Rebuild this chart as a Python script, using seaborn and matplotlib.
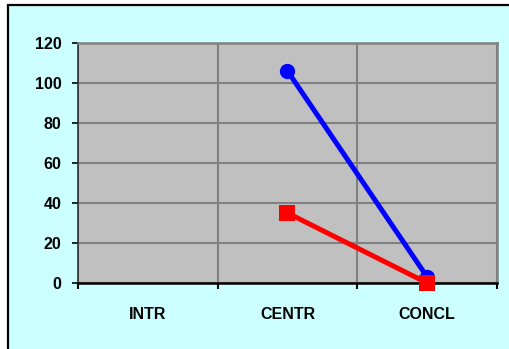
import numpy as np
import pandas as pd
import matplotlib
matplotlib.use("Agg")
import matplotlib.pyplot as plt
from matplotlib.patches import Rectangle
import seaborn as sns

# Data
categories = ["INTR", "CENTR", "CONCL"]
series_names = ["Serie 1", "Serie 2"]
serie1 = [np.nan, 106, 3]
serie2 = [np.nan, 35, 0]
y_ticks = [0, 20, 40, 60, 80, 100, 120]

df = pd.DataFrame({
    "pos": list(range(len(categories))) * 2,
    "value": serie1 + serie2,
    "serie": [series_names[0]] * len(categories) + [series_names[1]] * len(categories),
})

sns.set_theme(style="white")
plt.rcParams["font.family"] = ["Liberation Sans", "DejaVu Sans"]

fig = plt.figure(figsize=(5.1, 3.49), dpi=100, facecolor="white")

# chart frame, kept behind the axes
frame = Rectangle((8 / 510, -0.2), 1.2, 1.2 - 5 / 349, transform=fig.transFigure,
                  facecolor="#CCFFFF", edgecolor="black", linewidth=1.6, zorder=-10)
fig.patches.append(frame)

ax = fig.add_axes([78 / 510, 1 - 283 / 349, (497 - 78) / 510, (283 - 43) / 349])
ax.set_zorder(1)
ax.set_facecolor("#C0C0C0")

sns.lineplot(data=df, x="pos", y="value", hue="serie", style="serie",
             markers={series_names[0]: "o", series_names[1]: "s"},
             dashes=False, palette=["#0000FF", "#FF0000"],
             linewidth=3.6, markersize=11, markeredgewidth=0,
             legend=False, ax=ax, zorder=3)
for ln in ax.lines:
    ln.set_clip_on(False)
    if ln.get_marker() == "s":
        ln.set_markersize(12)

ax.set_xlim(-0.5, len(categories) - 0.5)
ax.set_ylim(y_ticks[0], y_ticks[-1])
ax.set_yticks(y_ticks)

# boundaries between categories carry the ticks and grid, names sit at the centres
ax.set_xticks(np.arange(len(categories) + 1) - 0.5)
ax.set_xticklabels([])
ax.set_xticks(range(len(categories)), minor=True)
ax.set_xticklabels(categories, minor=True)

ax.grid(True, which="major", axis="both", color="#808080", linewidth=1.5)
ax.set_axisbelow(True)

ax.tick_params(axis="y", which="major", direction="out", length=4, width=1.2,
               color="black", labelcolor="black", pad=8, labelsize=11.5, left=True)
ax.tick_params(axis="x", which="major", direction="out", length=4, width=1.5,
               color="black", bottom=True)
ax.tick_params(axis="x", which="minor", length=0, pad=17, labelsize=11.5,
               labelcolor="black", bottom=True)
for lbl in ax.get_yticklabels() + ax.get_xticklabels(minor=True):
    lbl.set_fontweight("bold")

for side in ("top", "right"):
    ax.spines[side].set_color("#808080")
    ax.spines[side].set_linewidth(1.8)
ax.spines["bottom"].set_color("black")
ax.spines["bottom"].set_linewidth(1.8)
ax.spines["left"].set_color("#303030")
ax.spines["left"].set_linewidth(1.2)

ax.set_xlabel("")
ax.set_ylabel("")

fig.savefig("out.png", dpi=100, facecolor="white")
